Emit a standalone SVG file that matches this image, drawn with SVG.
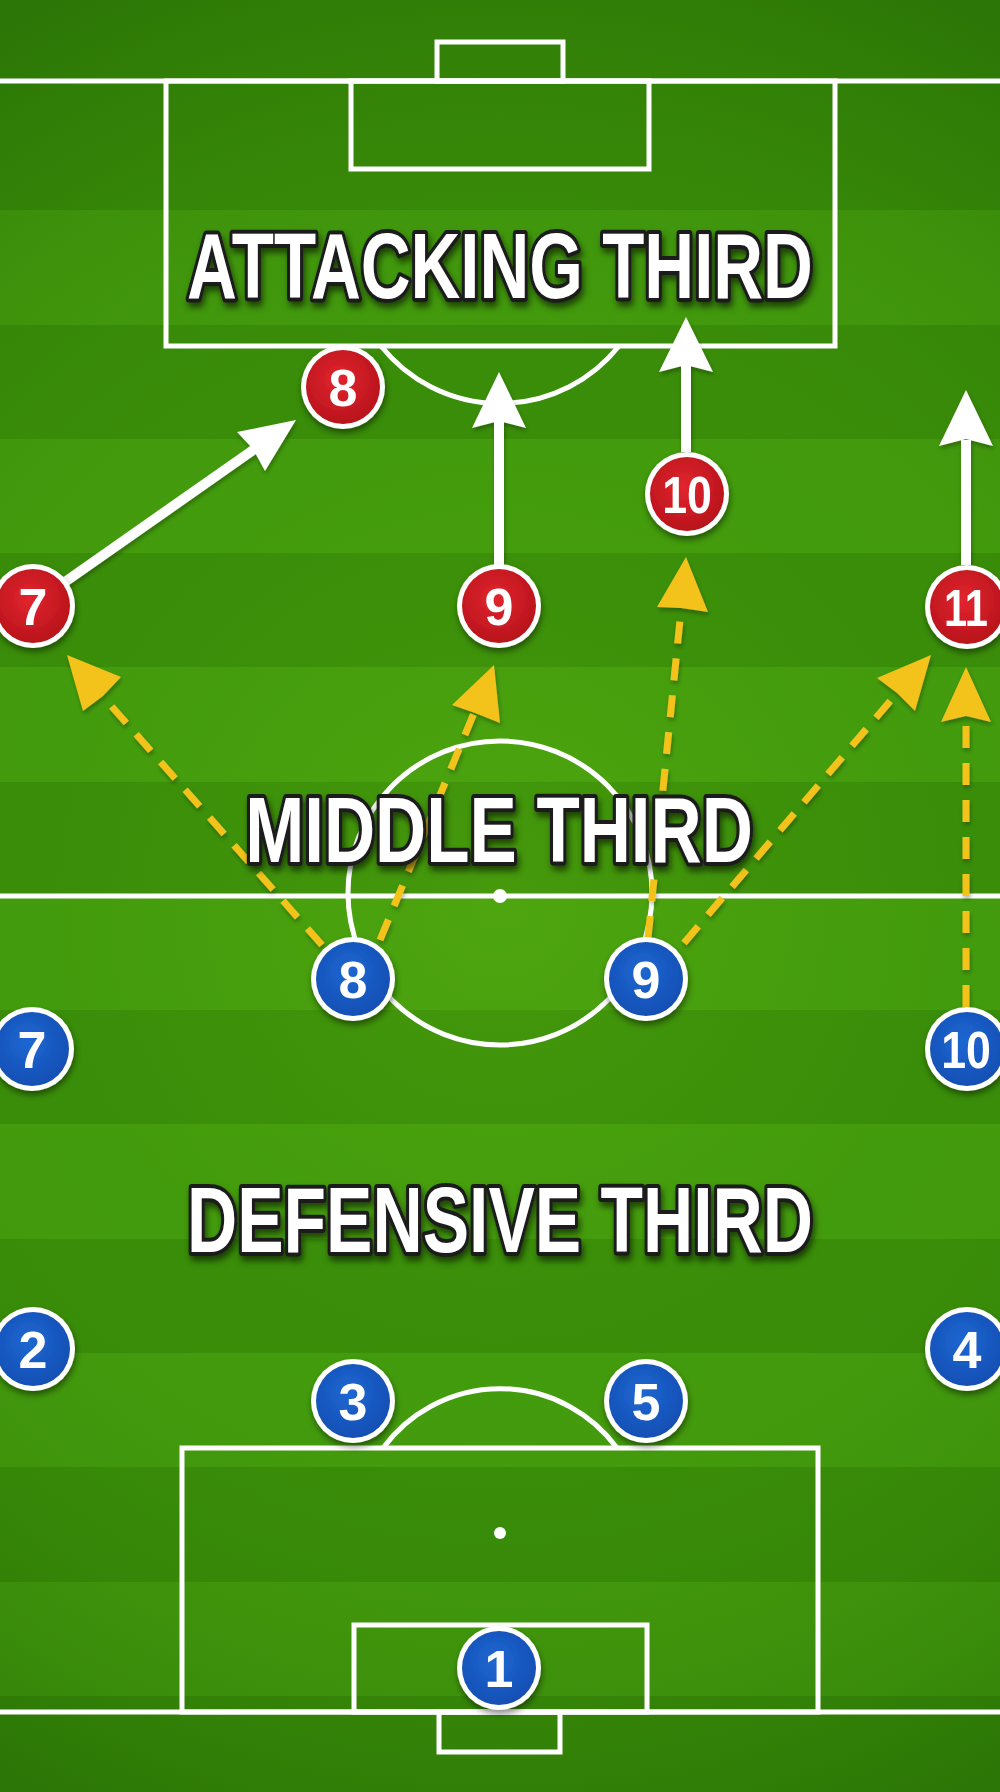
<svg xmlns="http://www.w3.org/2000/svg" width="1000" height="1792" viewBox="0 0 1000 1792">
  <defs>
    <radialGradient id="vignette" cx="500" cy="900" r="1000" gradientUnits="userSpaceOnUse">
      <stop offset="0" stop-color="#7fd11a" stop-opacity="0.22"/>
      <stop offset="0.45" stop-color="#6cc015" stop-opacity="0.06"/>
      <stop offset="1" stop-color="#0c3a00" stop-opacity="0.25"/>
    </radialGradient>
    <radialGradient id="redFill" cx="0.45" cy="0.4" r="0.6">
      <stop offset="0" stop-color="#e2252e"/>
      <stop offset="1" stop-color="#b8141c"/>
    </radialGradient>
    <radialGradient id="blueFill" cx="0.45" cy="0.4" r="0.6">
      <stop offset="0" stop-color="#1f67d2"/>
      <stop offset="1" stop-color="#124fb4"/>
    </radialGradient>
    <filter id="shadow" x="-30%" y="-30%" width="160%" height="160%">
      <feDropShadow dx="1" dy="4" stdDeviation="3" flood-color="#000" flood-opacity="0.45"/>
    </filter>
    <filter id="lineShadow" x="-10%" y="-10%" width="120%" height="120%">
      <feDropShadow dx="1" dy="3" stdDeviation="2" flood-color="#000" flood-opacity="0.3"/>
    </filter>
    <filter id="textShadow" x="-10%" y="-30%" width="120%" height="160%">
      <feDropShadow dx="2" dy="5" stdDeviation="3" flood-color="#000" flood-opacity="0.55"/>
    </filter>
  </defs>
  <style>
    .dark { fill: #368a08; }
    .light { fill: #40990c; }
    .pitch { fill: none; stroke: #ffffff; stroke-width: 5; }
    .spot { fill: #ffffff; }
    .run { stroke: #ffffff; stroke-width: 10; fill: none; }
    .runHead { fill: #ffffff; }
    .pass { stroke: #f3c31c; stroke-width: 7; fill: none; stroke-dasharray: 22 15; }
    .passHead { fill: #f3c31c; }
    .zone { font-family: "Liberation Sans", Arial, sans-serif; font-weight: bold; font-size: 92px; fill: #ffffff; stroke: #1c1c1c; stroke-width: 8; stroke-linejoin: round; paint-order: stroke; text-anchor: middle; }
    .ring { fill: #ffffff; }
    .red { fill: url(#redFill); }
    .blue { fill: url(#blueFill); }
    .num { font-family: "Liberation Sans", Arial, sans-serif; font-weight: bold; font-size: 52px; fill: #ffffff; text-anchor: middle; }
  </style>

  <g id="field">
    <rect x="0" y="0" width="1000" height="1792" class="dark"/>
    <rect x="0" y="210" width="1000" height="115" class="light"/>
    <rect x="0" y="439" width="1000" height="114" class="light"/>
    <rect x="0" y="667" width="1000" height="115" class="light"/>
    <rect x="0" y="896" width="1000" height="114" class="light"/>
    <rect x="0" y="1124" width="1000" height="115" class="light"/>
    <rect x="0" y="1353" width="1000" height="114" class="light"/>
    <rect x="0" y="1582" width="1000" height="114" class="light"/>
    <rect x="0" y="0" width="1000" height="1792" fill="url(#vignette)"/>
  </g>

  <g id="pitch-lines">
    <line x1="0" y1="81" x2="1000" y2="81" class="pitch" stroke-width="6"/>
    <rect x="437" y="42" width="126" height="39" class="pitch"/>
    <rect x="166" y="81" width="669" height="265" class="pitch"/>
    <rect x="351" y="81" width="298" height="88" class="pitch"/>
    <path d="M381,346 A152,152 0 0 0 619,346" class="pitch"/>
    <line x1="0" y1="896" x2="1000" y2="896" class="pitch"/>
    <circle cx="500" cy="893" r="152" class="pitch"/>
    <circle cx="500" cy="896" r="7" class="spot"/>
    <line x1="0" y1="1712" x2="1000" y2="1712" class="pitch" stroke-width="6"/>
    <rect x="182" y="1448" width="636" height="264" class="pitch"/>
    <rect x="354" y="1625" width="293" height="87" class="pitch"/>
    <rect x="439" y="1712" width="121" height="40" class="pitch"/>
    <path d="M383,1448 A145,145 0 0 1 617,1448" class="pitch"/>
    <circle cx="500" cy="1533" r="6" class="spot"/>
  </g>

  <g id="connectors" filter="url(#lineShadow)">
    <line x1="62" y1="584" x2="256" y2="448" class="run"/>
    <polygon points="296,420 265,471 253,449 237,432" class="runHead"/>
    <line x1="499" y1="566" x2="499" y2="420" class="run"/>
    <polygon points="499,372 526,428 499,421 472,428" class="runHead"/>
    <line x1="686" y1="452" x2="686" y2="365" class="run"/>
    <polygon points="686,317 713,372 686,365 659,372" class="runHead"/>
    <line x1="966" y1="565" x2="966" y2="440" class="run"/>
    <polygon points="966,390 993,446 966,439 939,446" class="runHead"/>
    <line x1="322" y1="945" x2="99" y2="692" class="pass"/>
    <polygon points="67,655 121,677 103,696 83,711" class="passHead"/>
    <line x1="380" y1="940" x2="474" y2="713" class="pass"/>
    <polygon points="494,665 500,723 475,713 452,705" class="passHead"/>
    <line x1="648" y1="938" x2="681" y2="610" class="pass"/>
    <polygon points="686,557 708,612 681,608 657,607" class="passHead"/>
    <line x1="684" y1="943" x2="897" y2="693" class="pass"/>
    <polygon points="931,655 915,711 897,693 877,678" class="passHead"/>
    <line x1="966" y1="1007" x2="966" y2="716" class="pass"/>
    <polygon points="966,667 991,722 966,716 941,722" class="passHead"/>
  </g>

  <g id="labels" filter="url(#textShadow)">
    <text id="label-attacking" class="zone" transform="translate(500,298) scale(0.75,1)">ATTACKING THIRD</text>
    <text id="label-middle" class="zone" transform="translate(499,862) scale(0.77,1)">MIDDLE THIRD</text>
    <text id="label-defensive" class="zone" transform="translate(500,1252) scale(0.756,1)">DEFENSIVE THIRD</text>
  </g>

  <g id="red-team">
    <g id="red-8" filter="url(#shadow)"><circle cx="343" cy="387" r="42" class="ring"/><circle cx="343" cy="387" r="37" class="red"/><text x="343" y="406" class="num">8</text></g>
    <g id="red-7" filter="url(#shadow)"><circle cx="33" cy="606" r="42" class="ring"/><circle cx="33" cy="606" r="37" class="red"/><text x="33" y="625" class="num">7</text></g>
    <g id="red-9" filter="url(#shadow)"><circle cx="499" cy="606" r="42" class="ring"/><circle cx="499" cy="606" r="37" class="red"/><text x="499" y="625" class="num">9</text></g>
    <g id="red-10" filter="url(#shadow)"><circle cx="687" cy="494" r="42" class="ring"/><circle cx="687" cy="494" r="37" class="red"/><text class="num" transform="translate(687,513) scale(0.86,1)">10</text></g>
    <g id="red-11" filter="url(#shadow)"><circle cx="967" cy="607" r="42" class="ring"/><circle cx="967" cy="607" r="37" class="red"/><text class="num" transform="translate(966,626) scale(0.8,1)">11</text></g>
  </g>

  <g id="blue-team">
    <g id="blue-8" filter="url(#shadow)"><circle cx="353" cy="979" r="42" class="ring"/><circle cx="353" cy="979" r="37" class="blue"/><text x="353" y="998" class="num">8</text></g>
    <g id="blue-9" filter="url(#shadow)"><circle cx="646" cy="979" r="42" class="ring"/><circle cx="646" cy="979" r="37" class="blue"/><text x="646" y="998" class="num">9</text></g>
    <g id="blue-7" filter="url(#shadow)"><circle cx="32" cy="1049" r="42" class="ring"/><circle cx="32" cy="1049" r="37" class="blue"/><text x="32" y="1068" class="num">7</text></g>
    <g id="blue-10" filter="url(#shadow)"><circle cx="967" cy="1049" r="42" class="ring"/><circle cx="967" cy="1049" r="37" class="blue"/><text class="num" transform="translate(966,1068) scale(0.86,1)">10</text></g>
    <g id="blue-2" filter="url(#shadow)"><circle cx="33" cy="1349" r="42" class="ring"/><circle cx="33" cy="1349" r="37" class="blue"/><text x="33" y="1368" class="num">2</text></g>
    <g id="blue-4" filter="url(#shadow)"><circle cx="967" cy="1349" r="42" class="ring"/><circle cx="967" cy="1349" r="37" class="blue"/><text x="967" y="1368" class="num">4</text></g>
    <g id="blue-3" filter="url(#shadow)"><circle cx="353" cy="1401" r="42" class="ring"/><circle cx="353" cy="1401" r="37" class="blue"/><text x="353" y="1420" class="num">3</text></g>
    <g id="blue-5" filter="url(#shadow)"><circle cx="646" cy="1401" r="42" class="ring"/><circle cx="646" cy="1401" r="37" class="blue"/><text x="646" y="1420" class="num">5</text></g>
    <g id="blue-1" filter="url(#shadow)"><circle cx="499" cy="1668" r="42" class="ring"/><circle cx="499" cy="1668" r="37" class="blue"/><text x="499" y="1687" class="num">1</text></g>
  </g>
</svg>
